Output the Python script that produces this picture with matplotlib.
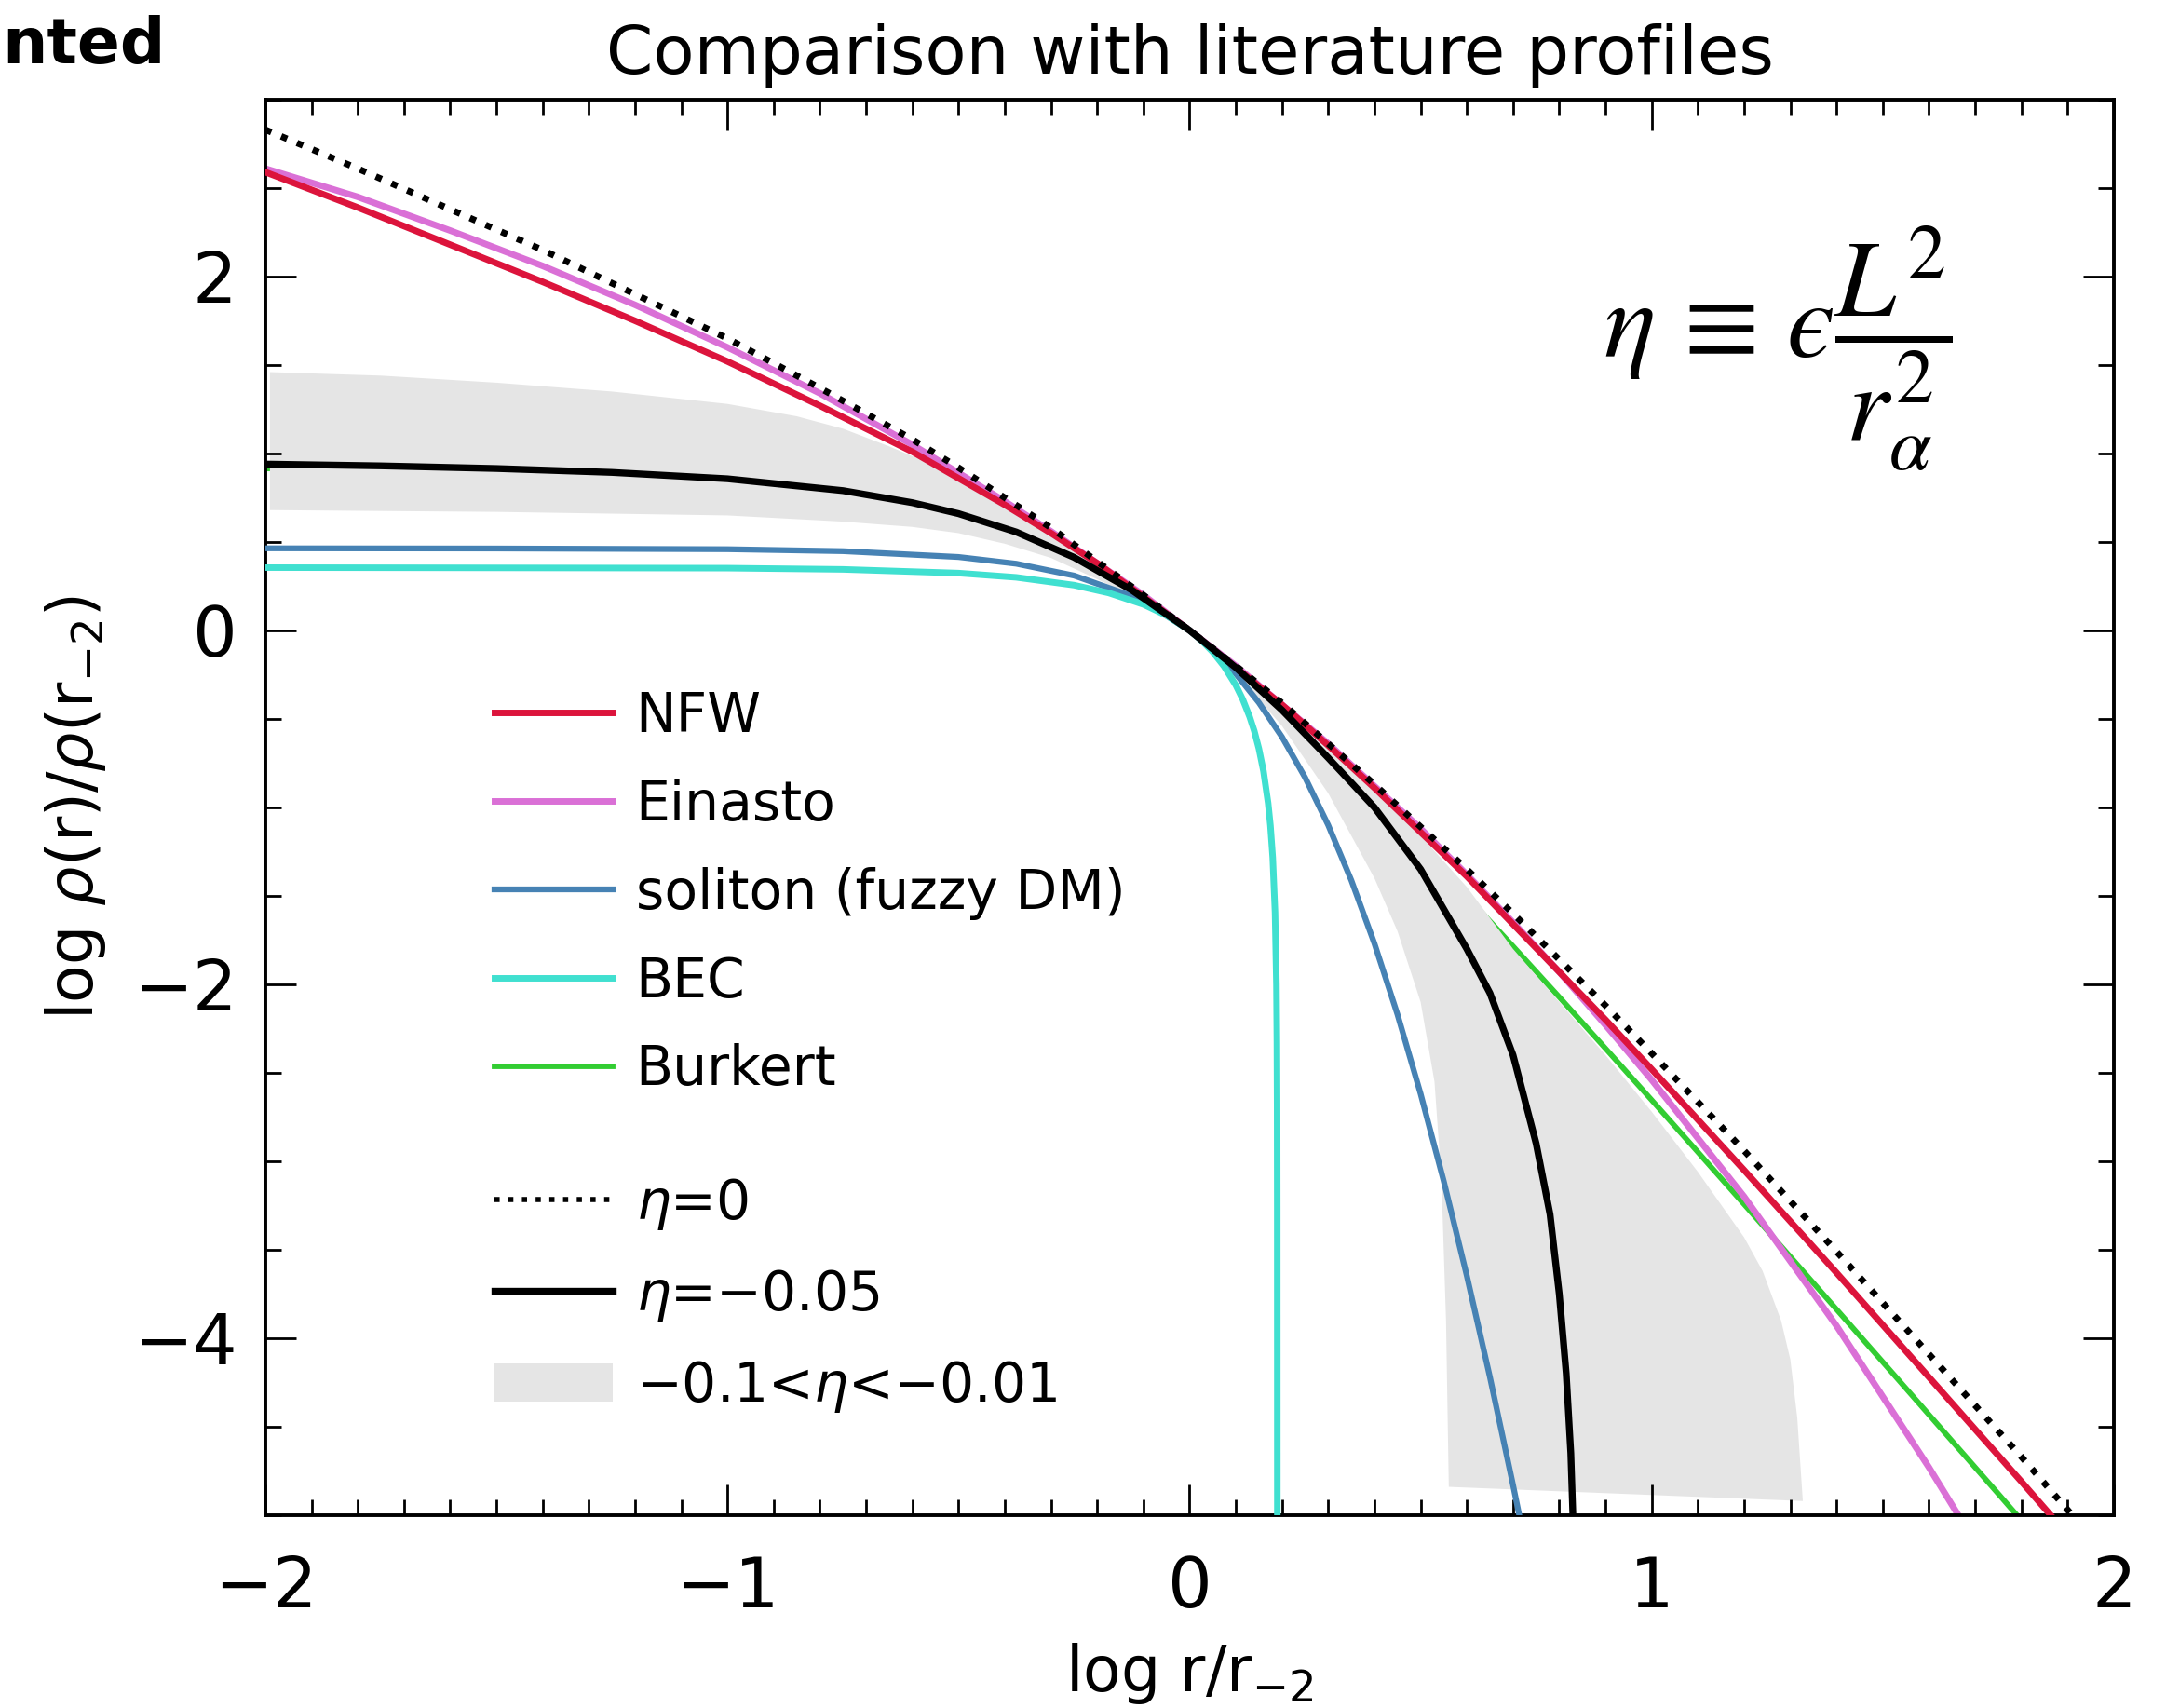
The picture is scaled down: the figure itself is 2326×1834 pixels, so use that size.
import matplotlib.pyplot as plt
from matplotlib.lines import Line2D
from matplotlib.patches import Patch
from matplotlib.ticker import MultipleLocator

plt.rcParams['font.family'] = ['DejaVu Sans']

# =====================
# profiles: log r/r_-2  ->  log rho/rho(r_-2)
x_nfw = [-2.0, -1.8, -1.6, -1.4, -1.2, -1.0, -0.8, -0.6, -0.5, -0.4, -0.3, -0.2, -0.1, 0.0,
         0.1, 0.2, 0.3, 0.4, 0.5, 0.6, 0.7, 0.8, 0.9, 1.0, 1.2, 1.4, 1.6, 1.8, 1.9]
y_nfw = [2.59, 2.39, 2.18, 1.97, 1.75, 1.52, 1.27, 1.01, 0.86, 0.71, 0.55, 0.38, 0.19, 0.0,
         -0.21, -0.42, -0.65, -0.89, -1.14, -1.39, -1.66, -1.93, -2.20, -2.48, -3.05, -3.63, -4.22, -4.81, -5.11]

x_ein = [-2.0, -1.8, -1.6, -1.4, -1.2, -1.0, -0.8, -0.6, -0.5, -0.4, -0.3, -0.2, -0.1, 0.0,
         0.1, 0.2, 0.3, 0.4, 0.5, 0.6, 0.7, 0.8, 0.9, 1.0, 1.2, 1.4, 1.6, 1.68]
y_ein = [2.61, 2.45, 2.26, 2.06, 1.84, 1.60, 1.34, 1.05, 0.89, 0.73, 0.56, 0.38, 0.20, 0.0,
         -0.20, -0.42, -0.64, -0.88, -1.12, -1.38, -1.65, -1.93, -2.23, -2.54, -3.20, -3.93, -4.73, -5.07]

x_sol = [-2.0, -1.5, -1.0, -0.75, -0.5, -0.375, -0.25, -0.125, -0.1, 0.0, 0.05, 0.1, 0.15,
         0.2, 0.25, 0.3, 0.35, 0.4, 0.45, 0.5, 0.55, 0.6, 0.65, 0.7, 0.72]
y_sol = [0.464, 0.463, 0.459, 0.448, 0.415, 0.377, 0.310, 0.195, 0.164, 0.0, -0.111, -0.245, -0.408,
         -0.602, -0.831, -1.100, -1.412, -1.769, -2.171, -2.619, -3.112, -3.647, -4.220, -4.830, -5.083]

x_bec = [-2.0, -1.0, -0.75, -0.5, -0.375, -0.25, -0.175, -0.1, -0.05, 0.0, 0.025, 0.05, 0.075,
         0.1, 0.115, 0.13, 0.14, 0.15, 0.16, 0.17, 0.175, 0.18, 0.185, 0.188, 0.189, 0.1895, 0.1898, 0.1899, 0.19]
y_bec = [0.355, 0.352, 0.345, 0.324, 0.300, 0.256, 0.212, 0.147, 0.085, 0.0, -0.055, -0.121, -0.204,
         -0.309, -0.389, -0.488, -0.568, -0.668, -0.796, -0.976, -1.103, -1.284, -1.594, -2.00, -2.33, -2.68, -3.27, -4.30, -5.5]

x_bur = [-2.0, -1.75, -1.5, -1.25, -1.0, -0.75, -0.6, -0.5, -0.375, -0.25, -0.125, 0.0, 0.125,
         0.25, 0.375, 0.5, 0.6, 0.7, 0.8, 0.9, 1.0, 1.1, 1.2, 1.25, 1.5, 1.75, 1.8]
y_bur = [0.915, 0.909, 0.900, 0.883, 0.850, 0.787, 0.722, 0.661, 0.557, 0.415, 0.229, 0.0, -0.268,
         -0.567, -0.888, -1.225, -1.503, -1.785, -2.072, -2.362, -2.654, -2.948, -3.243, -3.391, -4.134, -4.879, -5.029]

# eta = 0 (dotted) and eta = -0.05 (solid black)
x_eta0 = [-2.0, -1.8, -1.6, -1.4, -1.2, -1.0, -0.8, -0.6, -0.5, -0.4, -0.3, -0.2, -0.1, 0.0,
          0.1, 0.2, 0.3, 0.4, 0.5, 0.6, 0.7, 0.8, 0.9, 1.0, 1.2, 1.4, 1.6, 1.8, 1.92]
y_eta0 = [2.83, 2.61, 2.38, 2.15, 1.90, 1.65, 1.37, 1.08, 0.92, 0.75, 0.58, 0.39, 0.20, 0.0,
          -0.20, -0.41, -0.64, -0.87, -1.11, -1.35, -1.60, -1.86, -2.12, -2.39, -2.94, -3.51, -4.09, -4.67, -5.03]

x_eta05 = [-2.0, -1.75, -1.5, -1.25, -1.0, -0.75, -0.6, -0.5, -0.375, -0.25, -0.125, 0.0,
           0.1, 0.2, 0.3, 0.4, 0.5, 0.6, 0.65, 0.7, 0.75, 0.78, 0.8, 0.815, 0.825, 0.832]
y_eta05 = [0.94, 0.93, 0.915, 0.893, 0.857, 0.79, 0.722, 0.66, 0.556, 0.413, 0.228, 0.0,
           -0.21, -0.45, -0.72, -1.0, -1.35, -1.8, -2.05, -2.4, -2.9, -3.3, -3.75, -4.2, -4.65, -5.2]

# band -0.1 < eta < -0.01 : upper (eta=-0.01) and lower (eta=-0.1) edges
x_band_hi = [-1.99, -1.75, -1.5, -1.25, -1.0, -0.85, -0.75, -0.65, -0.55, -0.5, -0.4, -0.2, 0.0,
             0.2, 0.4, 0.5, 0.6, 0.7, 0.8, 0.9, 1.0, 1.1, 1.2, 1.24, 1.28, 1.3, 1.315, 1.327]
y_band_hi = [1.46, 1.44, 1.40, 1.35, 1.28, 1.21, 1.14, 1.04, 0.93, 0.86, 0.70, 0.37, 0.0,
             -0.43, -0.91, -1.16, -1.45, -1.80, -2.10, -2.40, -2.72, -3.06, -3.43, -3.62, -3.90, -4.12, -4.45, -4.92]
x_band_lo = [-1.99, -1.75, -1.5, -1.25, -1.0, -0.75, -0.6, -0.5, -0.4, -0.3, -0.2, -0.1, 0.0,
             0.1, 0.2, 0.3, 0.4, 0.45, 0.5, 0.53, 0.545, 0.555, 0.561]
y_band_lo = [0.68, 0.675, 0.67, 0.66, 0.65, 0.615, 0.585, 0.55, 0.49, 0.41, 0.29, 0.16, 0.0,
             -0.24, -0.54, -0.92, -1.40, -1.70, -2.10, -2.55, -3.10, -3.90, -4.84]

band_color = '#e5e5e5'

fig = plt.figure(figsize=(23.26, 18.34), dpi=100)
ax = fig.add_axes([0.1225, 0.1129, 0.8534, 0.8288])

# Burkert first so the band hides it where it overlaps
ax.plot(x_bur, y_bur, color='limegreen', lw=4.2, zorder=1)
ax.fill(x_band_hi + x_band_lo[::-1], y_band_hi + y_band_lo[::-1], color=band_color, lw=0, zorder=1.5)
ax.plot(x_ein, y_ein, color='orchid', lw=5, zorder=2)
ax.plot(x_nfw, y_nfw, color='crimson', lw=5, zorder=3)
ax.plot(x_sol, y_sol, color='steelblue', lw=4.5, zorder=3)
ax.plot(x_bec, y_bec, color='turquoise', lw=5, zorder=3)
ax.plot(x_eta05, y_eta05, color='black', lw=5.3, zorder=4)
ax.plot(x_eta0, y_eta0, color='black', lw=5, ls=':', zorder=5)

ax.set_xlim(-2, 2)
ax.set_ylim(-5, 3)
ax.xaxis.set_major_locator(MultipleLocator(1))
ax.xaxis.set_minor_locator(MultipleLocator(0.1))
ax.yaxis.set_major_locator(MultipleLocator(2))
ax.yaxis.set_minor_locator(MultipleLocator(0.5))
ax.tick_params(which='both', direction='in', top=True, right=True, width=2)
ax.tick_params(which='major', length=24, labelsize=54)
ax.tick_params(which='minor', length=12.5)
ax.tick_params(axis='x', pad=30)
ax.tick_params(axis='y', pad=22)
for sp in ax.spines.values():
    sp.set_linewidth(2.8)

ax.set_title('Comparison with literature profiles', fontsize=52, pad=20)
ax.set_xlabel(r'log r/r$_{-2}$', fontsize=48)
ax.set_ylabel(r'log $\rho$(r)/$\rho$(r$_{-2}$)', fontsize=48)
ax.xaxis.set_label_coords(0.5, -0.089)
ax.yaxis.set_label_coords(-0.085, 0.5)

# legend: profiles from the literature, then the eta curves further down
prof_handles = [Line2D([], [], color='crimson', lw=5),
                Line2D([], [], color='orchid', lw=5),
                Line2D([], [], color='steelblue', lw=4.5),
                Line2D([], [], color='turquoise', lw=5),
                Line2D([], [], color='limegreen', lw=4.2)]
prof_labels = ['NFW', 'Einasto', 'soliton (fuzzy DM)', 'BEC', 'Burkert']
eta_handles = [Line2D([], [], color='black', lw=4, ls=':'),
               Line2D([], [], color='black', lw=5.3),
               Patch(facecolor=band_color, edgecolor='none')]
eta_labels = [r'$\eta$=0', r'$\eta$=−0.05', r'−0.1<$\eta$<−0.01']

leg_kw = dict(loc='upper left', frameon=False, fontsize=42, handlelength=2.17,
              handletextpad=0.43, labelspacing=0.65, borderpad=0, borderaxespad=0)
leg1 = ax.legend(prof_handles, prof_labels, bbox_to_anchor=(0.124, 0.583), **leg_kw)
ax.add_artist(leg1)
ax.legend(eta_handles, eta_labels, bbox_to_anchor=(0.124, 0.2395), **leg_kw)

ax.text(0.818, 0.824, r'$\eta\,\equiv\,ϵ\dfrac{L^2}{r_\alpha^2}$', transform=ax.transAxes,
        ha='center', va='center', fontsize=84, math_fontfamily='stix')

# cropped slide heading in the top-left corner
fig.text(2 / 2326, 1 - 68 / 1834, 'nted', ha='left', va='baseline', fontsize=49,
         fontweight='bold')

fig.savefig('out.png', dpi=100)
